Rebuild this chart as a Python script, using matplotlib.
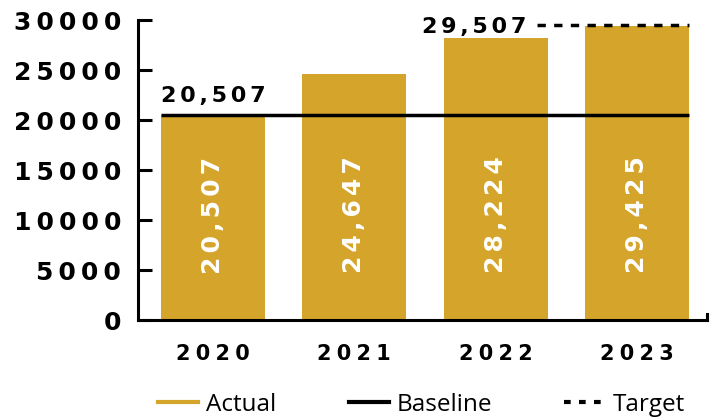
import matplotlib.pyplot as plt
from matplotlib.lines import Line2D

years = ["2020", "2021", "2022", "2023"]
actual = [20507, 24647, 28224, 29425]
baseline = 20507
target = 29507
y_ticks = [0, 5000, 10000, 15000, 20000, 25000, 30000]

gold = "#D5A42B"
bar_width = 0.736
label_level = 10500   # where the rotated values sit inside the bars


def spaced(text, sep="\u2006"):
    # fake letter spacing
    return sep.join(text)


fig = plt.figure(figsize=(7.12, 4.19), dpi=100)
ax = fig.add_axes([138 / 712, 1 - 320 / 419, 569 / 712, 300 / 419])

xs = list(range(len(years)))
ax.bar(xs, actual, width=bar_width, color=gold, zorder=2)

for x, v in zip(xs, actual):
    ax.text(x, label_level, spaced(f"{v:,}"), rotation=90, color="white",
            fontsize=18, fontweight="bold", ha="center", va="center",
            zorder=3)

# baseline across all bars
left = xs[0] - bar_width / 2
right = xs[-1] + bar_width / 2
ax.plot([left, right], [baseline, baseline], color="black", linewidth=2.5,
        solid_capstyle="butt", zorder=4)
ax.annotate(spaced(f"{baseline:,}"), (left, baseline), xytext=(0, 9),
            textcoords="offset points", ha="left", va="baseline",
            fontsize=16, fontweight="bold")

# target over the last bars
t_start = xs[2] + 0.29
ax.plot([t_start, right], [target, target], color="black", linewidth=2.5,
        linestyle=(0, (2.4, 2.4)), zorder=4)
ax.annotate(spaced(f"{target:,}"), (t_start, target), xytext=(-7, -6),
            textcoords="offset points", ha="right", va="baseline",
            fontsize=16, fontweight="bold")

ax.set_xlim(-0.531, 3.496)
ax.set_ylim(0, 30000)
ax.set_yticks(y_ticks)
ax.set_yticklabels([spaced(str(t), "\u2009") for t in y_ticks],
                   fontsize=18, fontweight="bold")
ax.set_xticks(xs)
ax.set_xticklabels([spaced(y, "\u2005") for y in years],
                   fontsize=15, fontweight="bold")
ax.tick_params(axis="y", direction="in", length=10, width=2.2, pad=12)
ax.tick_params(axis="x", length=0, pad=17)

for side in ["top", "right"]:
    ax.spines[side].set_visible(False)
for side in ["left", "bottom"]:
    ax.spines[side].set_linewidth(2.2)
    ax.spines[side].set_capstyle("projecting")

# small outer tick at the right end of the x axis
ax.plot([1, 1], [0, 0.02], transform=ax.transAxes, color="black",
        linewidth=2.2, clip_on=False, solid_capstyle="projecting")

handles = [
    Line2D([], [], color=gold, linewidth=3),
    Line2D([], [], color="black", linewidth=3),
    Line2D([], [], color="black", linewidth=3, linestyle=(0, (1.6, 2.0))),
]
fig.legend(handles, ["Actual", "Baseline", "Target"], loc="center",
           bbox_to_anchor=(421.5 / 712, 1 - 405 / 419), ncol=3,
           frameon=False, prop={"family": "Open Sans", "size": 17.5},
           handlelength=1.65, handletextpad=0.33, columnspacing=2.96,
           borderpad=0)

fig.savefig("out.png", dpi=100)
